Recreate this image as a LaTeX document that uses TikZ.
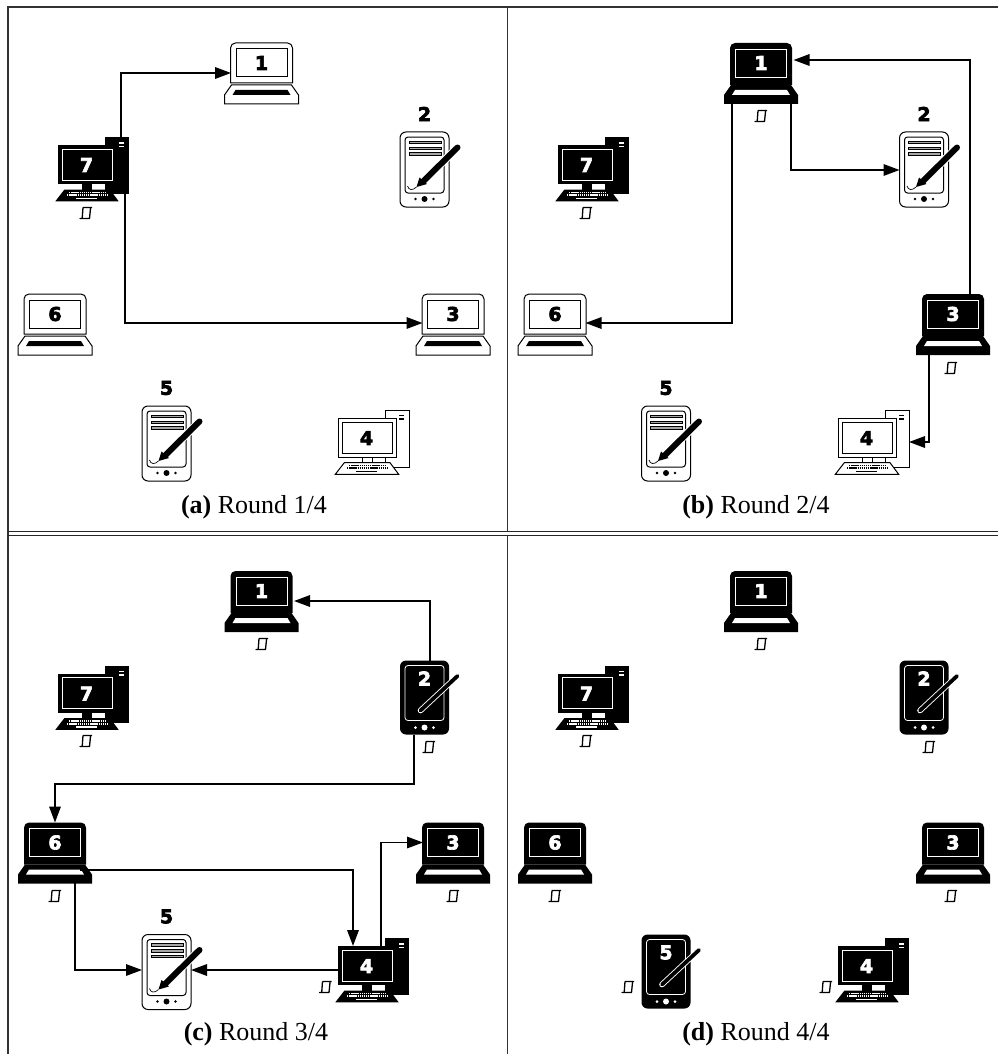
\documentclass[tikz,border=0pt]{standalone}
\usepackage{fontspec}
\setmainfont{Liberation Serif}
\newfontfamily\numf[BoldFeatures={FakeBold=3.5}]{DejaVu Sans}
\usetikzlibrary{arrows.meta}
\tikzset{
  flow/.style={line width=1.6pt,-{Triangle[length=16pt,width=11.5pt]}},
  frameline/.style={line width=1.5pt,draw=black!80},
  rule/.style={line width=1pt,draw=black!85},
  capt/.style={anchor=base,font=\fontsize{26}{30}\selectfont},
  num/.style={font=\numf\bfseries\fontsize{19}{19}\selectfont,inner sep=0pt},
  box/.style={inner sep=0pt,outer sep=0pt,minimum width=#1},
}
\newcommand{\laptopicon}[5]{%
  \begin{scope}[shift={(#2,#3)}]
    \node[box=74pt,minimum height=61pt,anchor=north] (#1) at (0,0) {};
    \ifnum#4=1
      \fill[black] (-31,42) {[rounded corners=5pt] -- (-31,0) -- (31,0)} -- (31,42) -- cycle;
      \draw[white,line width=.8pt] (-25.5,6) rectangle (25.5,34);
      \fill[black] (-30,42)--(30,42)--(37,52)--(37,61)--(-37,61)--(-37,52)--cycle;
      \fill[white] (-26,47)--(26,47)--(29,52)--(-29,52)--cycle;
      \node[num,text=white] (#1n) at (0,20) {#5};
    \else
      \draw[black,fill=white,line width=1pt] (-31,40) {[rounded corners=5pt] -- (-31,0) -- (31,0)} -- (31,40) -- cycle;
      \draw[black,line width=1pt] (-25.5,6) rectangle (25.5,34);
      \draw[black,fill=white,line width=1pt] (-30,42)--(30,42)--(37,52)--(37,61)--(-37,61)--(-37,52)--cycle;
      \fill[black] (-26,47)--(26,47)--(29,52)--(-29,52)--cycle;
      \node[num,text=black] (#1n) at (0,20) {#5};
    \fi
  \end{scope}}
\newcommand{\pdaicon}[5]{%
  \begin{scope}[shift={(#2,#3)}]
    \node[box=49pt,minimum height=75pt,anchor=north] (#1) at (0,0) {};
    \ifnum#4=1
      \fill[black,rounded corners=6pt] (-24.5,0) rectangle (24.5,74);
      \draw[white,line width=.8pt,rounded corners=3pt] (-19.5,5) rectangle (19.5,60);
      \fill[white] (0,67) circle (3); \fill[white] (-9,67) circle (1.5); \fill[white] (9,67) circle (1.5);
      \draw[white,line width=5.6pt,line cap=round] (33,15.5)--(-4,50);
      \draw[black,line width=3.8pt,line cap=round] (33,15.5)--(-4,50);
      \node[num,text=white] (#1n) at (0,18) {#5};
    \else
      \draw[black,fill=white,line width=1pt,rounded corners=6pt] (-24.5,0) rectangle (24.5,75);
      \draw[black,line width=1pt,rounded corners=3pt] (-19.5,5) rectangle (19.5,61);
      \foreach \yy in {9,15,20.5}
        \draw[black,fill=black!35,line width=.8pt] (-15.5,\yy) rectangle (16.5,\yy+2.6);
      \fill[black] (0,67) circle (3); \fill[black] (-9,67) circle (1.3); \fill[black] (9,67) circle (1.3);
      \draw[white,line width=8pt] (33,15.5)--(-2,50);
      \draw[black,line width=6pt,line cap=round] (33,15.5)--(-1,49);
      \fill[black] (-8,55)--(-5,45.5)--(2.5,52)--cycle;
      \draw[black,line width=.7pt] (-8,55) .. controls (-12,59) and (-16,58) .. (-17,54);
      \node[num,text=black] (#1n) at (0,-18) {#5};
    \fi
  \end{scope}}
\newcommand{\deskicon}[5]{%
  \begin{scope}[shift={(#2,#3)}]
    \node[box=71pt,minimum height=64pt,anchor=north west] (#1) at (0,0) {};
    \ifnum#4=1
      \fill[black] (47,0) rectangle (71,57);
      \fill[white] (61,5) rectangle (66,6.8); \fill[white] (61,8.6) rectangle (66,10.4);
      \fill[black] (0,8) rectangle (58,47);
      \draw[white,line width=.8pt] (4,12) rectangle (54,43);
      \fill[black] (24,47) rectangle (34,53);
      \fill[white] (34,47) rectangle (47,53);
      \fill[black] (47,47) rectangle (58,53);
      \fill[black] (6.3,52.7)--(52,52.7)--(60.7,64.3)--(-2.7,64.3)--cycle;
      \draw[white,line width=1.6pt,dash pattern=on 1.4pt off .7pt] (11,55.6)--(48,55.6);
      \draw[white,line width=1.6pt,dash pattern=on 1.4pt off .7pt] (9,58.2)--(50,58.2);
      \draw[white,line width=1.5pt] (18,61.6)--(39,61.6);
      \node[num,text=white] (#1n) at (28.5,28) {#5};
    \else
      \draw[black,fill=white,line width=1pt] (47,0) rectangle (71,57);
      \fill[black] (61,4.5) rectangle (66,6.4); \fill[black] (61,8.4) rectangle (66,10.2);
      \draw[black,fill=white,line width=1pt] (0,8) rectangle (58,47);
      \draw[black,line width=1pt] (4,12) rectangle (54,43);
      \draw[black,fill=white,line width=1pt] (24,47) rectangle (34,53);
      \draw[black,fill=white,line width=1pt] (34,47) rectangle (47,53);
      \draw[black,fill=white,line width=1pt] (6.3,52.7)--(52,52.7)--(60.7,64.3)--(-2.7,64.3)--cycle;
      \draw[black,line width=1.6pt,dash pattern=on 1.4pt off .7pt] (11,55.6)--(48,55.6);
      \draw[black,line width=1.6pt,dash pattern=on 1.4pt off .7pt] (9,58.2)--(50,58.2);
      \draw[black,line width=1.5pt] (18,61.6)--(39,61.6);
      \node[num,text=black] (#1n) at (28.5,28) {#5};
    \fi
  \end{scope}}
\newcommand{\docicon}[2]{%
  \draw[black,line width=1.3pt,line join=round] (#1-3,#2-5.5)--(#1+6,#2-5.5)
     (#1-3,#2-5.5)--(#1-3.8,#2+5.5)--(#1-6,#2+5.5)--(#1+3.5,#2+5.5)--(#1+4.6,#2-5.5);}
\begin{document}
\begin{tikzpicture}[x=1pt,y=-1pt]
\useasboundingbox (0,0) rectangle (998,1054);
% frame
\draw[frameline] (8,1054)--(8,7)--(998,7);
\draw[frameline] (507.5,7)--(507.5,531);
\draw[frameline] (507.5,535.5)--(507.5,1054);
\draw[rule] (8,531.5)--(998,531.5);
\draw[rule] (8,535)--(998,535);
% panel a
\laptopicon{a1}{261.5}{43}{0}{1}
\pdaicon{a2}{424.5}{132}{0}{2}
\laptopicon{a3}{453}{294}{0}{3}
\deskicon{a4}{338}{410}{0}{4}
\pdaicon{a5}{166.5}{406}{0}{5}
\laptopicon{a6}{55}{294}{0}{6}
\deskicon{a7}{58}{137}{1}{7}
\draw[flow] ([xshift=63pt]a7.north west) |- ([shift={(6.5pt,-30pt)}]a1.north west);
\draw[flow] ([shift={(67pt,-57pt)}]a7.north west) |- ([shift={(6.5pt,-29pt)}]a3.north west);
\docicon{86}{213}
% panel b
\laptopicon{b1}{761}{43}{1}{1}
\pdaicon{b2}{924}{132}{0}{2}
\laptopicon{b3}{953}{294}{1}{3}
\deskicon{b4}{838}{410}{0}{4}
\pdaicon{b5}{666}{406}{0}{5}
\laptopicon{b6}{555}{294}{0}{6}
\deskicon{b7}{558}{137}{1}{7}
\draw[flow] ([shift={(67pt,-60pt)}]b1.north west) |- (b2.west |- 0,170);
\draw[flow] ([shift={(8pt,-60pt)}]b1.north west) |- ([shift={(67.5pt,-29pt)}]b6.north west);
\draw[flow] ([shift={(54pt,0pt)}]b3.north west) |- ([shift={(69.5pt,-17pt)}]b1.north west);
\draw[flow] ([shift={(13pt,-60pt)}]b3.north west) |- ([shift={(71pt,-32pt)}]b4.north west);
\docicon{586}{213}\docicon{761}{116}\docicon{951}{368}
% panel c
\laptopicon{c1}{261.5}{571}{1}{1}
\pdaicon{c2}{424.5}{660.5}{1}{2}
\laptopicon{c3}{453}{822.5}{1}{3}
\deskicon{c4}{338}{938}{1}{4}
\pdaicon{c5}{166.5}{934.5}{0}{5}
\laptopicon{c6}{55}{822.5}{1}{6}
\deskicon{c7}{58}{665.5}{1}{7}
\coordinate (s45) at ([shift={(1pt,-32pt)}]c4.north west);
\draw[flow] ([xshift=5.5pt]c2.north) |- ([shift={(69.5pt,-30pt)}]c1.north west);
\draw[flow] ([xshift=-10.5pt,yshift=1pt]c2.south) |- (c6.north |- 0,784) -- (c6.north);
\draw[flow] ([shift={(62pt,-47.5pt)}]c6.north west) -| ([yshift=-8pt]c4.north west -| 353,0);
\draw[flow] ([shift={(57pt,-60pt)}]c6.north west) |- (c5.west |- s45);
\draw[flow] (s45) -- (c5.east |- s45);
\draw[flow] ([shift={(43pt,-8pt)}]c4.north west) |- ([shift={(7pt,-20pt)}]c3.north west);
\docicon{86}{741}\docicon{262}{644}\docicon{429}{747}\docicon{55}{896}\docicon{453}{896}\docicon{325.5}{987}
% panel d
\laptopicon{d1}{761}{571}{1}{1}
\pdaicon{d2}{924}{660.5}{1}{2}
\laptopicon{d3}{953}{822.5}{1}{3}
\deskicon{d4}{838}{938}{1}{4}
\pdaicon{d5}{666}{934.5}{1}{5}
\laptopicon{d6}{555}{822.5}{1}{6}
\deskicon{d7}{558}{665.5}{1}{7}
\docicon{586}{741}\docicon{761}{644}\docicon{929}{747}\docicon{555}{896}\docicon{951}{896}\docicon{628}{987}\docicon{826}{987}
% captions
\node[capt] (capa) at (254,513) {\textbf{(a)} Round 1/4};
\node[capt] (capb) at (756,513) {\textbf{(b)} Round 2/4};
\node[capt] (capc) at (256,1040) {\textbf{(c)} Round 3/4};
\node[capt] (capd) at (756,1040) {\textbf{(d)} Round 4/4};
\end{tikzpicture}
\end{document}
